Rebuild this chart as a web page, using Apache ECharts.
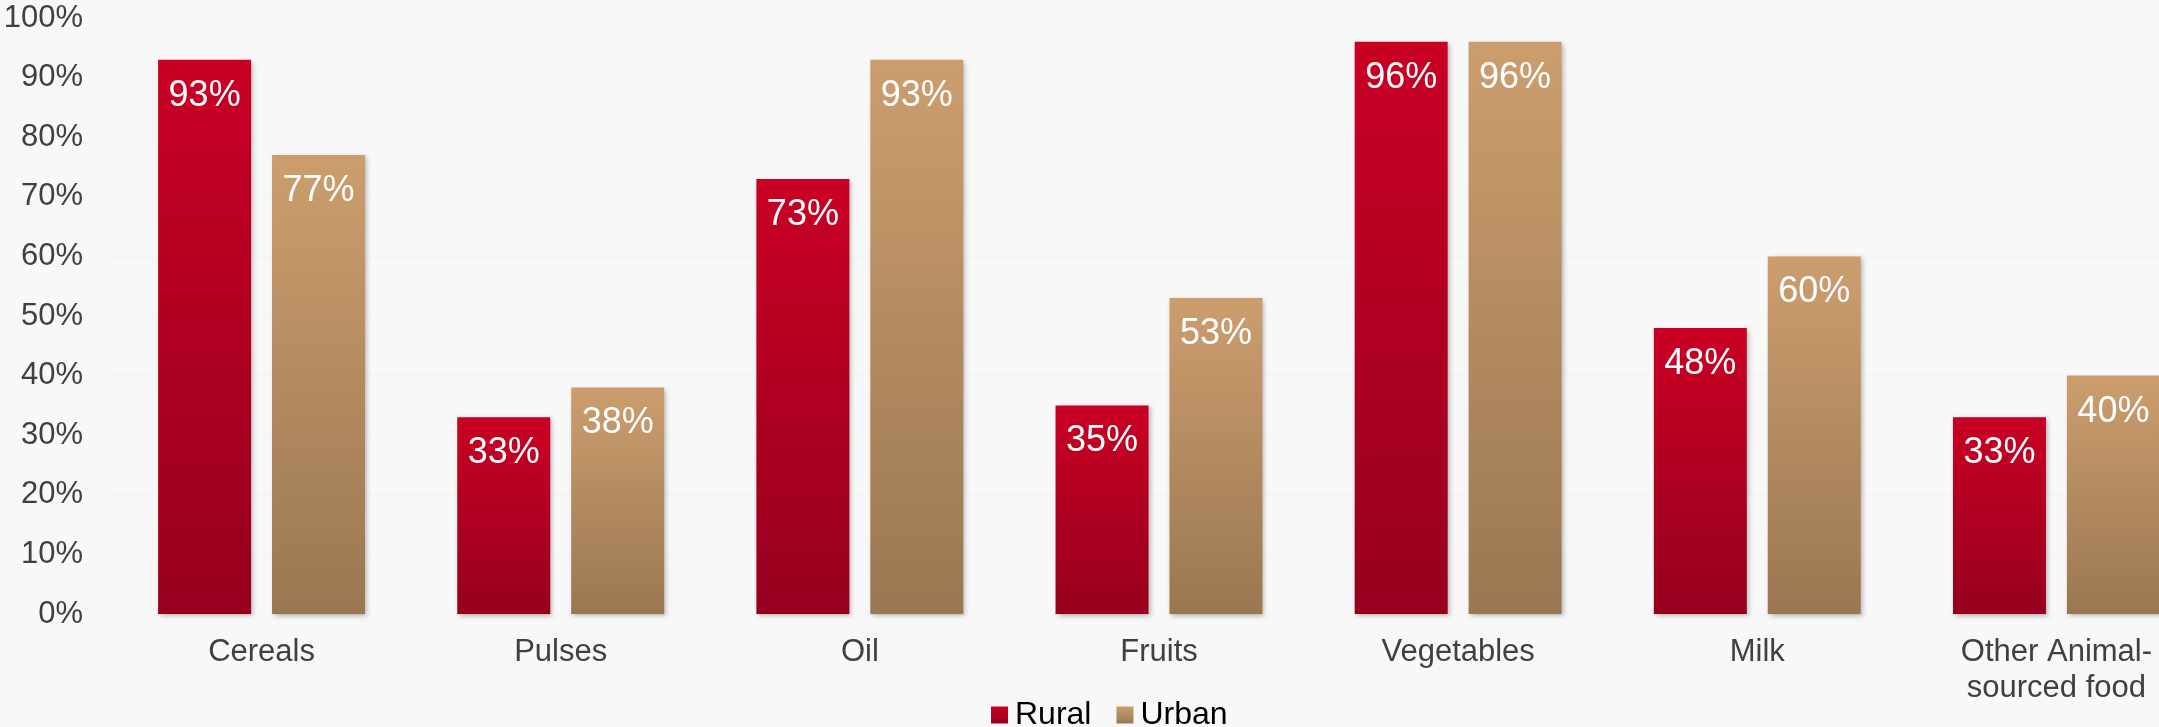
<!DOCTYPE html>
<html>
<head>
<meta charset="utf-8">
<title>Food group consumption: Rural vs Urban</title>
<script src="https://cdn.jsdelivr.net/npm/echarts@6/dist/echarts.min.js"></script>
<style>
  html, body { margin: 0; padding: 0; background: #F8F8F8; overflow: hidden; }
  /* the plot runs a little past the right edge of the page */
  #chart { width: 2206px; height: 727px; }
</style>
</head>
<body>
<div id="chart"></div>
<script>
// Share of households consuming each food group (%)
const categories = ['Cereals', 'Pulses', 'Oil', 'Fruits', 'Vegetables', 'Milk', 'Other Animal-\nsourced food'];
const rural = [93, 33, 73, 35, 96, 48, 33];
const urban = [77, 38, 93, 53, 96, 60, 40];
const seriesNames = ['Rural', 'Urban'];
const yTicks = { min: 0, max: 100, interval: 10 };

const FONT = '"Liberation Sans", Arial, sans-serif';

function vGrad(top, bottom) {
  return new echarts.graphic.LinearGradient(0, 0, 0, 1, [
    { offset: 0, color: top },
    { offset: 1, color: bottom }
  ]);
}

const barLabel = {
  show: true,
  position: 'insideTop',
  distance: 18,
  color: '#FFFFFF',
  fontFamily: FONT,
  fontSize: 36,
  formatter: p => p.value + '%'
};

const shadow = {
  shadowBlur: 5,
  shadowColor: 'rgba(0,0,0,0.28)',
  shadowOffsetX: 2,
  shadowOffsetY: 2
};

const chart = echarts.init(document.getElementById('chart'), null, { renderer: 'canvas' });

chart.setOption({
  backgroundColor: '#F8F8F8',
  animation: false,
  grid: { left: 112, top: 18, right: 0, bottom: 113, containLabel: false },
  legend: {
    data: seriesNames,
    left: 991,
    top: 699,
    padding: 0,
    itemWidth: 17,
    itemHeight: 17,
    itemGap: 25,
    icon: 'rect',
    textStyle: { color: '#000000', fontFamily: FONT, fontSize: 32, padding: [0, 0, 0, 2] }
  },
  xAxis: {
    type: 'category',
    data: categories,
    axisLine: { show: false },
    axisTick: { show: false },
    axisLabel: {
      color: '#404040',
      fontFamily: FONT,
      fontSize: 31,
      lineHeight: 36,
      margin: 20,
      interval: 0
    }
  },
  yAxis: {
    type: 'value',
    min: yTicks.min,
    max: yTicks.max,
    interval: yTicks.interval,
    axisLine: { show: false },
    axisTick: { show: false },
    splitLine: { show: true, lineStyle: { color: '#F4F4EE', width: 1 } },
    axisLabel: {
      color: '#404040',
      fontFamily: FONT,
      fontSize: 31,
      margin: 29,
      formatter: v => v + '%'
    }
  },
  series: [
    {
      name: seriesNames[0],
      type: 'bar',
      data: rural,
      barWidth: 93,
      barGap: '22.5%',
      itemStyle: Object.assign({ color: vGrad('#C90024', '#96001E') }, shadow),
      label: barLabel
    },
    {
      name: seriesNames[1],
      type: 'bar',
      data: urban,
      barWidth: 93,
      barGap: '22.5%',
      itemStyle: Object.assign({ color: vGrad('#CC9E6E', '#9A7752') }, shadow),
      label: barLabel
    }
  ]
});
</script>
</body>
</html>
